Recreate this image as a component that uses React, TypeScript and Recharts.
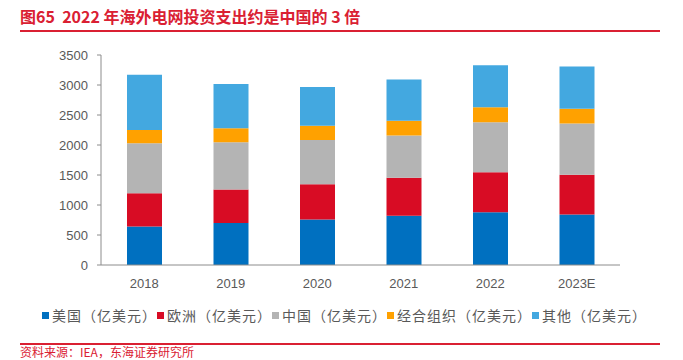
import { Bar, BarChart, XAxis, YAxis } from "recharts";

const years = ["2018", "2019", "2020", "2021", "2022", "2023E"];
const usa = [640, 700, 760, 820, 880, 840];
const europe = [555, 560, 585, 635, 665, 665];
const china = [835, 785, 740, 705, 835, 855];
const oecd = [220, 235, 235, 245, 250, 245];
const others = [920, 735, 645, 685, 700, 705];
const yTicks = [0, 500, 1000, 1500, 2000, 2500, 3000, 3500];

const data = years.map((year, i) => ({
  year,
  usa: usa[i],
  europe: europe[i],
  china: china[i],
  oecd: oecd[i],
  others: others[i],
}));

const series = [
  { key: "usa", name: "美国（亿美元）", color: "#0070C0" },
  { key: "europe", name: "欧洲（亿美元）", color: "#D80C24" },
  { key: "china", name: "中国（亿美元）", color: "#B4B4B4" },
  { key: "oecd", name: "经合组织（亿美元）", color: "#FFA100" },
  { key: "others", name: "其他（亿美元）", color: "#43A8E0" },
];

const red = "#DA2032";
const font = '"Noto Sans CJK SC", "Noto Sans", sans-serif';
const tickFont = '"Liberation Sans", Arial, sans-serif';

export default function App() {
  return (
    <div style={{ position: "absolute", left: 0, top: 0, width: 683, height: 360, background: "#fff", overflow: "hidden", fontFamily: font }}>
      <div style={{ position: "absolute", left: 20, top: 5, fontSize: 16, fontWeight: 700, color: red, lineHeight: "22px", whiteSpace: "pre" }}>
        图65  2022 年海外电网投资支出约是中国的 3 倍
      </div>
      <div style={{ position: "absolute", left: 20, top: 30, width: 640, height: 2, background: red }} />

      <BarChart
        width={683}
        height={335}
        data={data}
        margin={{ top: 55, right: 63, left: 0, bottom: 0 }}
        style={{ position: "absolute", left: 0, top: 0 }}
      >
        <XAxis
          dataKey="year"
          axisLine={{ stroke: "#8C8C8C" }}
          tickLine={false}
          tick={{ fontSize: 13, fill: "#595959", fontFamily: tickFont }}
          tickMargin={8}
          height={70}
        />
        <YAxis
          domain={[0, 3500]}
          ticks={yTicks}
          interval={0}
          width={101}
          axisLine={{ stroke: "#8C8C8C" }}
          tickLine={{ stroke: "#8C8C8C" }}
          tickSize={4}
          tickMargin={9}
          tick={{ fontSize: 13, fill: "#595959", fontFamily: tickFont }}
        />
        {series.map((s) => (
          <Bar
            key={s.key}
            dataKey={s.key}
            name={s.name}
            stackId="a"
            fill={s.color}
            barSize={35}
            isAnimationActive={false}
          />
        ))}
      </BarChart>

      <div style={{ position: "absolute", left: 42, top: 305, width: 601, display: "flex", justifyContent: "space-between", alignItems: "center", fontSize: 14, color: "#595959", lineHeight: "20px" }}>
        {series.map((s) => (
          <div key={s.key} style={{ display: "flex", alignItems: "center", whiteSpace: "pre" }}>
            <span style={{ display: "inline-block", width: 7, height: 7, background: s.color, marginRight: 3 }} />
            <span style={{ letterSpacing: 1 }}>{s.name}</span>
          </div>
        ))}
      </div>

      <div style={{ position: "absolute", left: 20, top: 343, width: 640, height: 2, background: red }} />
      <div style={{ position: "absolute", left: 20, top: 345, fontSize: 12, color: red, lineHeight: "14px", whiteSpace: "pre" }}>
        资料来源：IEA，东海证券研究所
      </div>
    </div>
  );
}
